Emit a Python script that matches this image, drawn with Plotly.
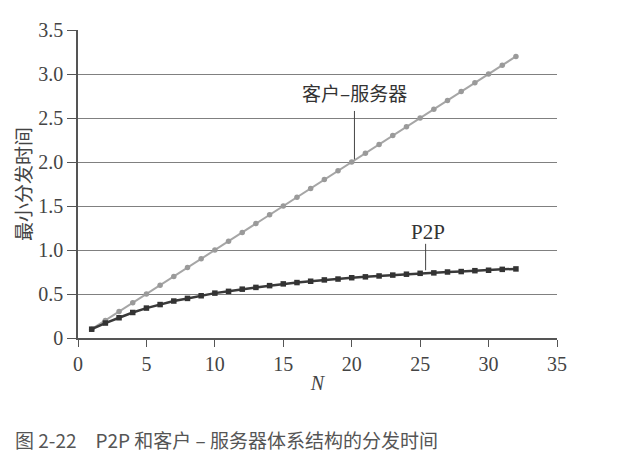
import plotly.graph_objects as go

n_values = list(range(1, 33))
client_server = [0.1, 0.2, 0.3, 0.4, 0.5, 0.6, 0.7, 0.8, 0.9, 1.0,
                 1.1, 1.2, 1.3, 1.4, 1.5, 1.6, 1.7, 1.8, 1.9, 2.0,
                 2.1, 2.2, 2.3, 2.4, 2.5, 2.6, 2.7, 2.8, 2.9, 3.0,
                 3.1, 3.2]
p2p = [0.1, 0.17, 0.23, 0.29, 0.34, 0.38, 0.42, 0.45, 0.48, 0.51,
       0.53, 0.555, 0.575, 0.595, 0.615, 0.63, 0.645, 0.66, 0.67, 0.685,
       0.695, 0.705, 0.715, 0.725, 0.735, 0.74, 0.75, 0.755, 0.765, 0.77,
       0.78, 0.785]
x_ticks = [0, 5, 10, 15, 20, 25, 30, 35]
y_ticks = [0, 0.5, 1.0, 1.5, 2.0, 2.5, 3.0, 3.5]
y_tick_labels = ["0", "0.5", "1.0", "1.5", "2.0", "2.5", "3.0", "3.5"]

serif = "Liberation Serif, Times New Roman, serif"
cjk = "Noto Sans CJK SC"

fig = go.Figure()
fig.add_trace(go.Scatter(
    x=n_values, y=client_server, mode="lines+markers",
    line=dict(color="#a6a6a6", width=2),
    marker=dict(symbol="circle", size=5.5, color="#9a9a9a"),
    showlegend=False, name="客户–服务器"))
fig.add_trace(go.Scatter(
    x=n_values, y=p2p, mode="lines+markers",
    line=dict(color="#3a3a3a", width=2.5),
    marker=dict(symbol="square", size=5.5, color="#333333"),
    showlegend=False, name="P2P"))

# leader lines
fig.add_shape(type="line", x0=20.2, x1=20.2, y0=2.03, y1=2.58,
              line=dict(color="#444", width=1))
fig.add_shape(type="line", x0=25.4, x1=25.4, y0=0.77, y1=1.07,
              line=dict(color="#444", width=1))

fig.add_annotation(x=20.2, y=2.79, text="客户–服务器", showarrow=False,
                   font=dict(family=cjk, size=19, color="#333"))
fig.add_annotation(x=25.6, y=1.21, text="P2P", showarrow=False,
                   font=dict(family=serif, size=21, color="#333"))

# caption
fig.add_annotation(xref="paper", yref="paper", x=-0.135, y=-0.33,
                   xanchor="left", yanchor="middle",
                   text="图 2-22　P2P 和客户 – 服务器体系结构的分发时间",
                   showarrow=False,
                   font=dict(family=cjk, size=19, color="#555"))

fig.update_layout(
    width=633, height=459,
    margin=dict(l=78, r=76, t=30, b=121),
    paper_bgcolor="white", plot_bgcolor="white",
    xaxis=dict(range=[0, 35], tickvals=x_ticks, showgrid=False,
               showline=True, linecolor="#555", linewidth=1.5,
               ticks="outside", ticklen=7, tickcolor="#555", tickwidth=1.2,
               tickfont=dict(family=serif, size=20, color="#444"),
               zeroline=False,
               title=dict(text="<i>N</i>", standoff=2,
                          font=dict(family=serif, size=20, color="#444"))),
    yaxis=dict(range=[0, 3.5], tickvals=y_ticks, ticktext=y_tick_labels,
               showgrid=True, gridcolor="#808080", gridwidth=1,
               showline=True, linecolor="#555", linewidth=1.5,
               ticks="outside", ticklen=9, tickcolor="#555", tickwidth=1.2,
               tickfont=dict(family=serif, size=20, color="#444"),
               zeroline=False,
               title=dict(text="最小分发时间", standoff=2,
                          font=dict(family=cjk, size=19, color="#444"))),
)

fig.write_html("out.html")
